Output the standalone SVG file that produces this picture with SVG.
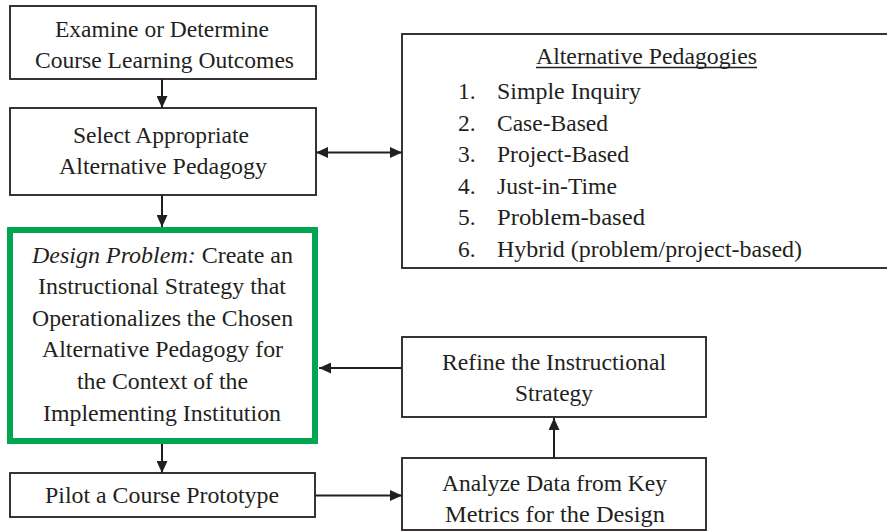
<svg xmlns="http://www.w3.org/2000/svg" width="887" height="532" viewBox="0 0 887 532">
<style>
.box{fill:#fff;stroke:#231f20;stroke-width:1.8}
.green{fill:#fff;stroke:#00a651;stroke-width:6}
text{font-family:"Liberation Serif","Times New Roman",Times,serif;font-size:23.5px;fill:#231f20}
.c{text-anchor:middle}
.conn{stroke:#231f20;stroke-width:2;fill:none}
</style>
<defs>
<marker id="ah" viewBox="0 0 12 11" refX="12" refY="5.5" markerWidth="12" markerHeight="11" markerUnits="userSpaceOnUse" orient="auto-start-reverse">
<path d="M0,0 L12,5.5 L0,11 z" fill="#231f20"/>
</marker>
</defs>
<rect width="887" height="532" fill="#fff"/>
<g id="connectors">
<line class="conn" x1="162" y1="79" x2="162" y2="108" marker-end="url(#ah)"/>
<line class="conn" x1="162" y1="195" x2="162" y2="227" marker-end="url(#ah)"/>
<line class="conn" x1="162" y1="444" x2="162" y2="473" marker-end="url(#ah)"/>
<line class="conn" x1="316" y1="152.5" x2="402" y2="152.5" marker-start="url(#ah)" marker-end="url(#ah)"/>
<line class="conn" x1="402" y1="368" x2="319" y2="368" marker-end="url(#ah)"/>
<line class="conn" x1="554" y1="458" x2="554" y2="418" marker-end="url(#ah)"/>
<line class="conn" x1="315" y1="495.5" x2="402" y2="495.5" marker-end="url(#ah)"/>
</g>
<g id="outcomes">
<rect class="box" x="10" y="6" width="306" height="73"/>
<text class="c" x="162" y="37" textLength="214" lengthAdjust="spacingAndGlyphs">Examine or Determine</text>
<text class="c" x="164.5" y="68" textLength="259" lengthAdjust="spacingAndGlyphs">Course Learning Outcomes</text>
</g>
<g id="select">
<rect class="box" x="10" y="108" width="306" height="87"/>
<text class="c" x="161" y="143" textLength="176" lengthAdjust="spacingAndGlyphs">Select Appropriate</text>
<text class="c" x="163" y="174" textLength="208" lengthAdjust="spacingAndGlyphs">Alternative Pedagogy</text>
</g>
<g id="pedagogies">
<rect class="box" x="402" y="34" width="500" height="234"/>
<text x="536" y="64" textLength="221" lengthAdjust="spacingAndGlyphs">Alternative Pedagogies</text>
<line x1="536" y1="67.5" x2="757" y2="67.5" stroke="#231f20" stroke-width="1.5"/>
<text x="458" y="99">1.</text><text x="497" y="99" textLength="144" lengthAdjust="spacingAndGlyphs">Simple Inquiry</text>
<text x="458" y="131">2.</text><text x="497" y="131" textLength="111" lengthAdjust="spacingAndGlyphs">Case-Based</text>
<text x="458" y="162">3.</text><text x="497" y="162" textLength="132" lengthAdjust="spacingAndGlyphs">Project-Based</text>
<text x="458" y="194">4.</text><text x="497" y="194" textLength="120" lengthAdjust="spacingAndGlyphs">Just-in-Time</text>
<text x="458" y="225">5.</text><text x="497" y="225" textLength="148" lengthAdjust="spacingAndGlyphs">Problem-based</text>
<text x="458" y="257">6.</text><text x="497" y="257" textLength="305" lengthAdjust="spacingAndGlyphs">Hybrid (problem/project-based)</text>
</g>
<g id="design">
<rect class="green" x="10" y="230" width="305" height="211"/>
<text class="c" x="162.5" y="263" textLength="261" lengthAdjust="spacingAndGlyphs"><tspan font-style="italic">Design Problem:</tspan> Create an</text>
<text class="c" x="162" y="294" textLength="248" lengthAdjust="spacingAndGlyphs">Instructional Strategy that</text>
<text class="c" x="162.5" y="326" textLength="261" lengthAdjust="spacingAndGlyphs">Operationalizes the Chosen</text>
<text class="c" x="162.5" y="357" textLength="241" lengthAdjust="spacingAndGlyphs">Alternative Pedagogy for</text>
<text class="c" x="162.5" y="389" textLength="171" lengthAdjust="spacingAndGlyphs">the Context of the</text>
<text class="c" x="162" y="421" textLength="238" lengthAdjust="spacingAndGlyphs">Implementing Institution</text>
</g>
<g id="refine">
<rect class="box" x="402" y="337" width="304" height="80"/>
<text class="c" x="554" y="370" textLength="224" lengthAdjust="spacingAndGlyphs">Refine the Instructional</text>
<text class="c" x="554" y="401" textLength="78" lengthAdjust="spacingAndGlyphs">Strategy</text>
</g>
<g id="pilot">
<rect class="box" x="10" y="473" width="305" height="44"/>
<text class="c" x="162" y="503" textLength="234" lengthAdjust="spacingAndGlyphs">Pilot a Course Prototype</text>
</g>
<g id="analyze">
<rect class="box" x="402" y="458" width="304" height="72"/>
<text class="c" x="554.5" y="491" textLength="225" lengthAdjust="spacingAndGlyphs">Analyze Data from Key</text>
<text class="c" x="555" y="522" textLength="220" lengthAdjust="spacingAndGlyphs">Metrics for the Design</text>
</g>
</svg>
